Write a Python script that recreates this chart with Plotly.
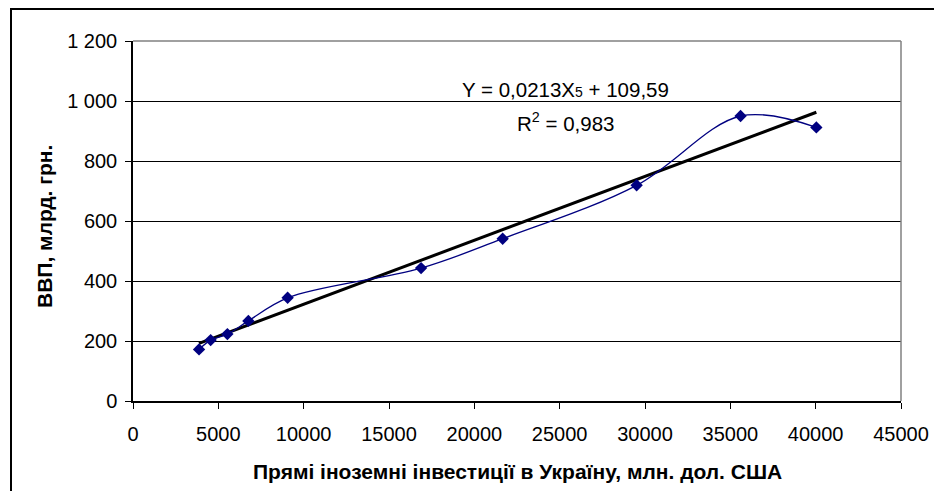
import plotly.graph_objects as go

# Data
fdi = [3870, 4550, 5530, 6760, 9060, 16880, 21660, 29510, 35600, 40040]
gdp = [172, 203, 223, 267, 344, 443, 541, 719, 950, 912]

# Linear trend as printed on the chart
slope = 0.0213
intercept = 109.59
trend_x = [min(fdi), max(fdi)]
trend_y = [slope * v + intercept for v in trend_x]

x_ticks = list(range(0, 45001, 5000))
y_ticks = [0, 200, 400, 600, 800, 1000, 1200]
y_tick_labels = ["0", "200", "400", "600", "800", "1 000", "1 200"]

eq_text = 'Y = 0,0213X<span style="font-size:14px">5</span> + 109,59'
r2_text = "R<sup>2</sup> = 0,983"
x_title = "Прямі іноземні інвестиції в Україну, млн. дол. США"
y_title = "ВВП, млрд. грн."

FONT = "Liberation Sans, Arial, sans-serif"
NAVY = "#000080"

fig = go.Figure()
fig.add_trace(go.Scatter(
    x=trend_x, y=trend_y, mode="lines",
    line=dict(color="black", width=3), hoverinfo="skip", showlegend=False))
fig.add_trace(go.Scatter(
    x=fdi, y=gdp, mode="lines+markers",
    line=dict(color=NAVY, width=1.3, shape="spline", smoothing=1),
    marker=dict(symbol="diamond", size=9.5, color=NAVY),
    showlegend=False))

# page has an 8px body margin; figure coordinates = page coordinates - 8
OFF = 8
W, H = 926, 483
L, T = 133 - OFF, 41 - OFF
PR, PB = 901 - OFF, 401 - OFF
R, B = W - PR, H - PB
pw, ph = PR - L, PB - T

def px_to_paper_x(px):
    return (px - OFF - L) / pw

def px_to_paper_y(py):
    return (PB - (py - OFF)) / ph

fig.update_layout(
    width=W, height=H, autosize=False,
    margin=dict(l=L, r=R, t=T, b=B, pad=0, autoexpand=False),
    paper_bgcolor="white", plot_bgcolor="white",
    font=dict(family=FONT, size=20, color="black"),
    xaxis=dict(
        automargin=False,
        range=[0, 45000], tickvals=x_ticks, ticktext=[str(v) for v in x_ticks],
        showgrid=False, zeroline=False, showline=True, linecolor="black", linewidth=1.5,
        ticks="outside", ticklen=6, tickcolor="black", tickwidth=1.2,
        ticklabelstandoff=8,
    ),
    yaxis=dict(
        automargin=False,
        range=[0, 1200], tickvals=y_ticks, ticktext=y_tick_labels,
        showgrid=True, gridcolor="black", gridwidth=1,
        zeroline=False, showline=True, linecolor="black", linewidth=1.5,
        ticks="outside", ticklen=6, tickcolor="black", tickwidth=1.2,
        ticklabelstandoff=4,
    ),
    annotations=[
        dict(text=f"<b>{x_title}</b>", xref="paper", yref="paper",
             x=px_to_paper_x(517), y=px_to_paper_y(471),
             xanchor="center", yanchor="middle", showarrow=False,
             font=dict(size=21)),
        dict(text=f"<b>{y_title}</b>", xref="paper", yref="paper",
             x=px_to_paper_x(45), y=px_to_paper_y(227), textangle=-90,
             xanchor="center", yanchor="middle", showarrow=False,
             font=dict(size=21)),
        dict(text=eq_text, xref="paper", yref="paper",
             x=px_to_paper_x(565), y=px_to_paper_y(90),
             xanchor="center", yanchor="middle", showarrow=False,
             font=dict(size=20.5)),
        dict(text=r2_text, xref="paper", yref="paper",
             x=px_to_paper_x(565), y=px_to_paper_y(122),
             xanchor="center", yanchor="middle", showarrow=False,
             font=dict(size=20.5)),
    ],
    shapes=[
        # plot area top and right edges (gray)
        dict(type="line", xref="paper", yref="paper", x0=0, x1=1, y0=1, y1=1,
             line=dict(color="#808080", width=1.5)),
        dict(type="line", xref="paper", yref="paper", x0=1, x1=1, y0=0, y1=1,
             line=dict(color="#808080", width=1.5)),
        # outer chart frame (extends past the right and bottom edges)
        dict(type="rect", xref="paper", yref="paper",
             x0=px_to_paper_x(11), x1=px_to_paper_x(960),
             y0=px_to_paper_y(520), y1=px_to_paper_y(9),
             line=dict(color="black", width=2)),
    ],
)

fig.write_html("out.html")
